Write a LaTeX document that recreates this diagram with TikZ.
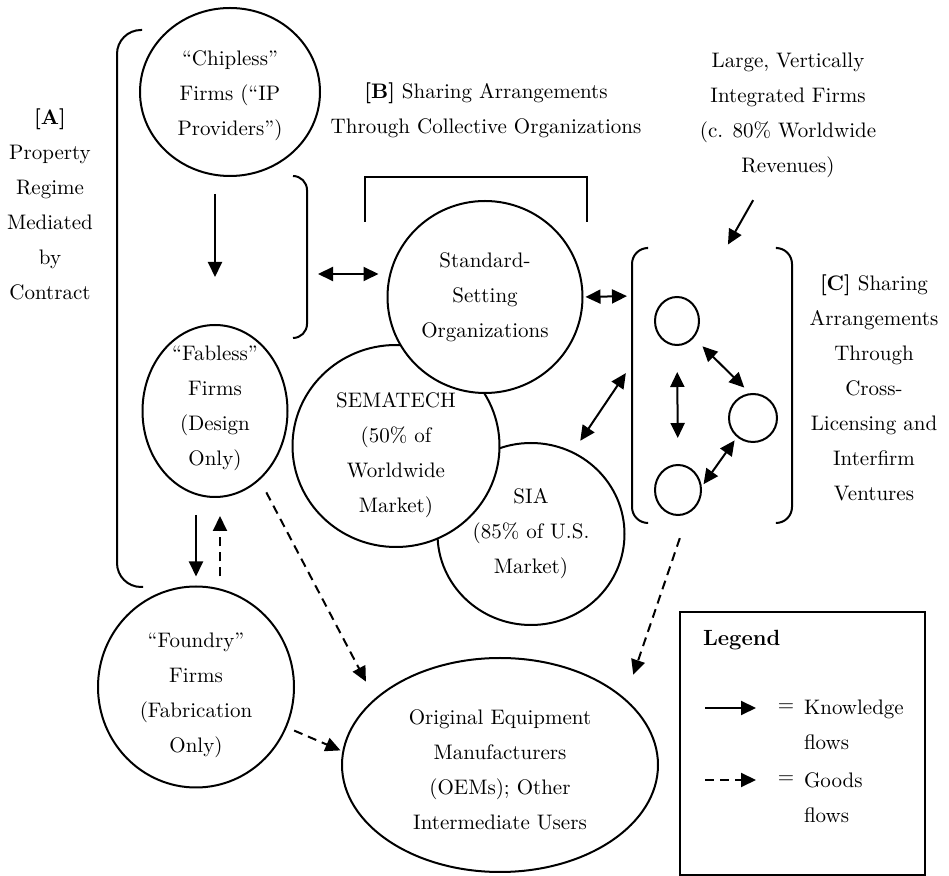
\documentclass[tikz,border=0pt]{standalone}
\usepackage{fontspec}
\usepackage{tikz}
\usetikzlibrary{arrows.meta,shapes.geometric}
% struts to nudge the text inside a few of the ovals
\newcommand{\topstrut}[1]{\rule{0pt}{#1}}
\newcommand{\botstrut}[1]{\rule[-#1]{0pt}{0pt}}

\begin{document}
\begin{tikzpicture}[x=0.5pt,y=-0.5pt,line width=1pt,
  font=\fontsize{10.5}{17.5}\selectfont,
  firm/.style={draw,ellipse,fill=white,align=center,inner sep=-8pt},
  blurb/.style={align=center,inner sep=0pt},
  know/.style={-{Triangle[length=7.5pt,width=7pt]}},
  knowboth/.style={{Triangle[length=7.5pt,width=7pt]}-{Triangle[length=7.5pt,width=7pt]}},
  goods/.style={know,dash pattern=on 4.5pt off 3pt}]
% I work in pixels of the original figure here, half a point each, with y running down
\useasboundingbox (0,0) rectangle (949,876);
% The firms down the left hand side, and the users at the bottom
\node[firm,minimum width=90pt,minimum height=84pt] (chip) at (230,92) {\topstrut{11.3pt}“Chipless”\\Firms (“IP\\Providers”)};
\node[firm,minimum width=72.5pt,minimum height=86pt] (fab) at (215,411) {“Fabless”\\Firms\\(Design\\Only)\botstrut{5.5pt}};
\node[firm,minimum width=98pt,minimum height=100.5pt] (found) at (196,687) {\topstrut{15.3pt}“Foundry”\\Firms\\(Fabrication\\Only)};
\node[firm,minimum width=158pt,minimum height=107pt] (oem) at (500,765) {\topstrut{11.8pt}Original Equipment\\Manufacturers\\(OEMs); Other\\Intermediate Users};
% The collective organizations, back to front so they overlap properly
\node[firm,minimum width=93.5pt,minimum height=91pt] (sia) at (531,534) {SIA\\(85\% of U.S.\\Market)};
\node[firm,minimum width=103.5pt,minimum height=101pt] (sema) at (396,446) {\topstrut{16.3pt}SEMATECH\\(50\% of\\Worldwide\\Market)};
\node[firm,minimum width=97.5pt,minimum height=96pt] (std) at (485,297) {Standard-\\Setting\\Organizations};
% The three big firms
\node[firm,minimum width=22pt,minimum height=24pt] (c1) at (677,321) {};
\node[firm,minimum width=24pt,minimum height=24pt] (c2) at (753,418) {};
\node[firm,minimum width=23pt,minimum height=25pt] (c3) at (678,490) {};
% The captions
\node[blurb] (regA) at (50,204) {\textbf{[A]}\\Property\\Regime\\Mediated\\by\\Contract};
\node[blurb] (regB) at (486,110) {\textbf{[B]} Sharing Arrangements\\Through Collective Organizations};
\node[blurb] (large) at (788,115) {Large, Vertically\\Integrated Firms\\(c. 80\% Worldwide\\Revenues)};
\node[blurb] (regC) at (874,388) {\textbf{[C]} Sharing\\Arrangements\\Through\\Cross-\\Licensing and\\Interfirm\\Ventures};
% The brackets
\draw[rounded corners=12pt] (142,30) -- (117,30) -- (117,587) -- (143,587);
\draw[rounded corners=7pt] (293,176) -- (307,176) -- (307,338) -- (293,338);
\draw (365,222) -- (365,177) -- (587,177) -- (587,222);
\draw[rounded corners=8pt] (647,248) -- (632,248) -- (632,523) -- (647,523);
\draw[rounded corners=8pt] (777,248) -- (792,248) -- (792,523) -- (777,523);
\coordinate (bmid) at (307,274);
\coordinate (cleft) at (632,296);
\coordinate (cleft2) at (632,364);
\coordinate (ctop) at (722,255);
\coordinate (cbot) at (685,523);
% Knowledge flows
\draw[know,shorten <=8.5pt,shorten >=23.5pt] (chip.south -| fab.north) -- (fab.north);
\draw[know,shorten <=8.5pt,shorten >=4.5pt] (fab.south -| found.north) -- (found.north);
\draw[knowboth,shorten <=5.5pt,shorten >=4pt] (bmid) -- (bmid -| std.west);
\draw[knowboth,shorten <=1pt,shorten >=2.5pt] (std.east) -- (cleft);
\draw[knowboth,shorten <=6.5pt,shorten >=5.5pt] (sia.63) -- (cleft2);
\draw[know,shorten <=12.5pt,shorten >=6pt] ([xshift=-11.25pt]large.south) -- (ctop);
\draw[knowboth,shorten <=6pt,shorten >=4pt] (c1.-45) -- (c2.97);
\draw[knowboth,shorten <=13pt,shorten >=13pt] (c1.south) -- (c3.north);
\draw[knowboth,shorten <=1.5pt,shorten >=2pt] (c3.8) -- (c2.230);
% Goods flows
\draw[goods,shorten <=4.5pt,shorten >=9pt] ([xshift=12pt]found.north) -- ([xshift=12pt]fab.south -| found.north);
\draw[goods,shorten <=7pt,shorten >=9.5pt] (fab.-57) -- (oem.152);
\draw[goods,shorten <=4pt,shorten >=1pt] (found.-24) -- (oem.175);
\draw[goods,shorten <=8pt,shorten >=12.5pt] (cbot) -- (oem.28);
% The legend
\node[draw,minimum width=122.5pt,minimum height=131.5pt,inner sep=0pt] (leg) at (802.5,743.5) {};
\node[blurb,anchor=west,font=\fontsize{11}{14}\selectfont\bfseries] (legt) at (702,640) {Legend};
\coordinate (lk1) at (705,708);
\coordinate (lk2) at (756,708);
\coordinate (lg1) at (705,780);
\coordinate (lg2) at (756,780);
\draw[know] (lk1) -- (lk2);
\draw[goods] (lg1) -- (lg2);
\node[blurb] (eqk) at (786,708) {=};
\node[blurb,anchor=west,align=left] (kno) at (803,725) {Knowledge\\flows};
\node[blurb] (eqg) at (786,780) {=};
\node[blurb,anchor=west,align=left] (goo) at (803,798) {Goods\\flows};
\end{tikzpicture}
\end{document}
